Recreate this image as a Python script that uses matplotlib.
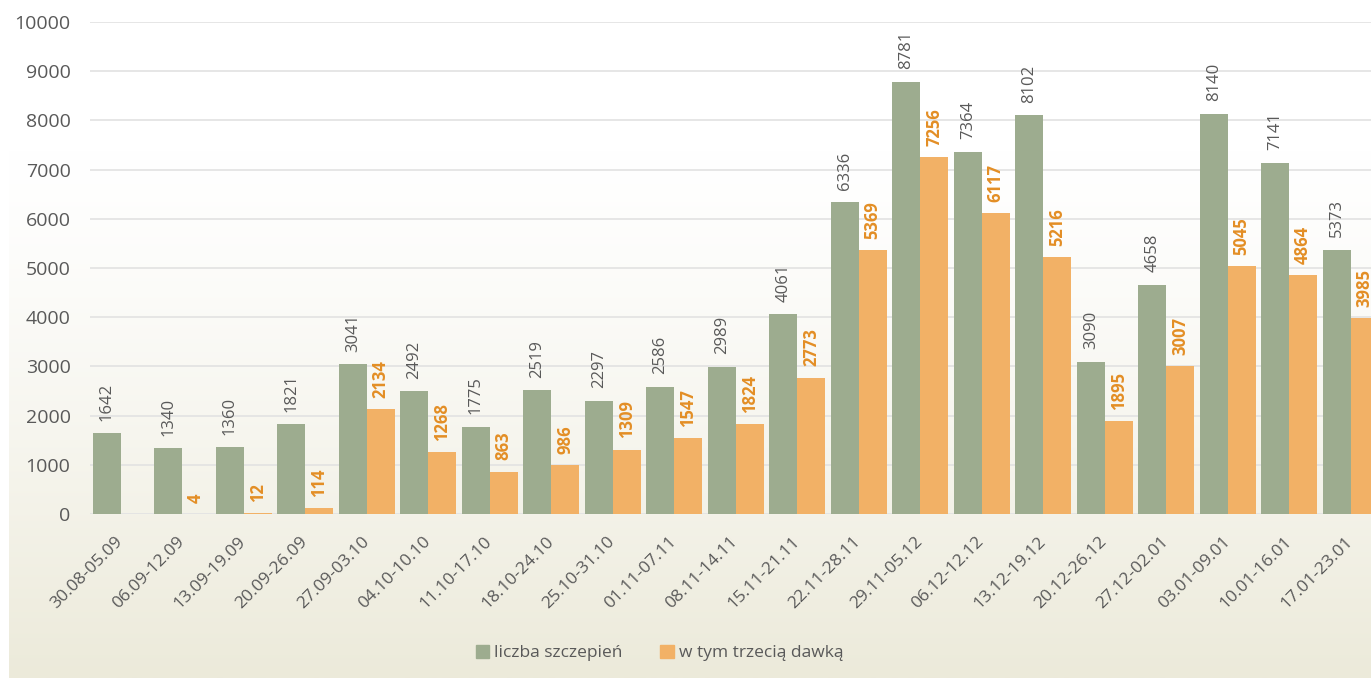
import numpy as np
import matplotlib
matplotlib.use('Agg')
import matplotlib.pyplot as plt
from matplotlib.patches import Patch
from matplotlib.colors import to_rgb

# weekly periods
weeks = ['30.08-05.09', '06.09-12.09', '13.09-19.09', '20.09-26.09', '27.09-03.10',
         '04.10-10.10', '11.10-17.10', '18.10-24.10', '25.10-31.10', '01.11-07.11',
         '08.11-14.11', '15.11-21.11', '22.11-28.11', '29.11-05.12', '06.12-12.12',
         '13.12-19.12', '20.12-26.12', '27.12-02.01', '03.01-09.01', '10.01-16.01',
         '17.01-23.01']
total = [1642, 1340, 1360, 1821, 3041, 2492, 1775, 2519, 2297, 2586, 2989, 4061,
         6336, 8781, 7364, 8102, 3090, 4658, 8140, 7141, 5373]
third_dose = [np.nan, 4, 12, 114, 2134, 1268, 863, 986, 1309, 1547, 1824, 2773,
              5369, 7256, 6117, 5216, 1895, 3007, 5045, 4864, 3985]
yticks = [0, 1000, 2000, 3000, 4000, 5000, 6000, 7000, 8000, 9000, 10000]

green = '#9DAC8F'
orange = '#F2B166'
grey_txt = '#595959'
orange_txt = '#E38E25'

plt.rcParams['font.family'] = ['Open Sans', 'DejaVu Sans']

W, H = 1371, 678
fig = plt.figure(figsize=(W / 100, H / 100), dpi=100)

# gradient background box (white at the top, beige at the bottom)
bg = fig.add_axes([9 / W, 0, 1, (H - 150) / H], zorder=-1)
top_c = np.array(to_rgb('#FFFFFF'))
bot_c = np.array(to_rgb('#ECEADA'))
t = np.linspace(0, 1, 256)[:, None] ** 1.3
grad = top_c[None, :] * (1 - t) + bot_c[None, :] * t
bg.imshow(grad[:, None, :], aspect='auto', extent=[0, 1, 0, 1])
bg.axis('off')

ax = fig.add_axes([90 / W, 164 / H, 1291.5 / W, 492 / H])
ax.set_facecolor('none')

x = np.arange(len(weeks))
bw = 0.455
ax.bar(x - bw / 2, total, bw, color=green, zorder=2)
ax.bar(x + bw / 2, third_dose, bw, color=orange, zorder=2)

for xi, v in zip(x, total):
    ax.annotate(f'{v}', (xi - bw / 2, v), xytext=(0, 9), textcoords='offset points',
                rotation=90, ha='center', va='bottom', fontsize=12, color=grey_txt,
                annotation_clip=False)
for xi, v in zip(x, third_dose):
    if np.isnan(v):
        continue
    ax.annotate(f'{int(v)}', (xi + bw / 2, v), xytext=(0, 8), textcoords='offset points',
                rotation=90, ha='center', va='bottom', fontsize=12, color=orange_txt,
                fontweight='bold', annotation_clip=False)

ax.set_xlim(-0.5, len(weeks) - 0.5)
ax.set_ylim(0, 10000)
ax.set_yticks(yticks)
ax.set_yticklabels([str(v) for v in yticks], fontsize=14, color=grey_txt)
ax.grid(axis='y', color='#E2E2E2', linewidth=1.2, zorder=0)
ax.set_axisbelow(True)
ax.set_xticks(x)
ax.set_xticklabels(weeks, rotation=45, ha='right', va='center', rotation_mode='anchor',
                   fontsize=12.5, color=grey_txt)
ax.tick_params(axis='y', length=0, pad=14)
ax.tick_params(axis='x', length=0, pad=18)
for s in ax.spines.values():
    s.set_visible(False)

handles = [Patch(color=green, label='liczba szczepień'),
           Patch(color=orange, label='w tym trzecią dawką')]
fig.legend(handles=handles, loc='center', bbox_to_anchor=(0.481, 1 - 653 / H), ncol=2,
           frameon=False, fontsize=12.5, labelcolor=grey_txt, handlelength=0.75,
           handleheight=0.75, handletextpad=0.3, columnspacing=2.2)

fig.savefig('out.png', dpi=100)
